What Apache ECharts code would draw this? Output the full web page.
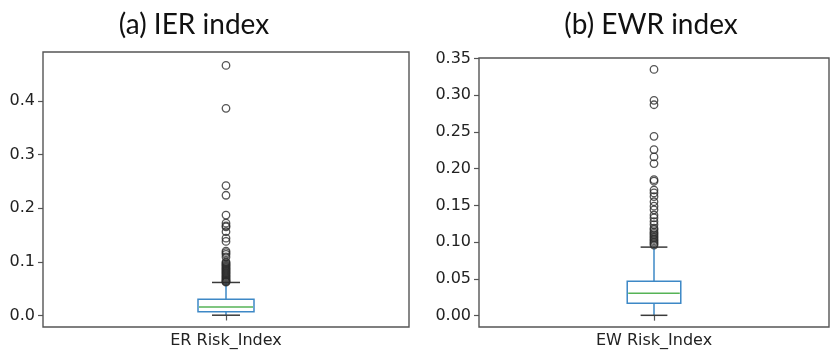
<!DOCTYPE html>
<html>
<head>
<meta charset="utf-8">
<script src="https://cdn.jsdelivr.net/npm/echarts@6/dist/echarts.min.js"></script>
<style>
  html, body { margin: 0; padding: 0; background: #fff; }
  #chart { width: 830px; height: 350px; }
</style>
</head>
<body>
<div id="chart"></div>
<script>
// Panel titles and category names
const panelTitles = ['(a) IER index', '(b) EWR index'];
const erCategory = ['ER Risk_Index'];
const ewCategory = ['EW Risk_Index'];

// Box statistics: [lower whisker, Q1, median, Q3, upper whisker]
const erBox = [0.0005, 0.0067, 0.016, 0.030, 0.0615];
const ewBox = [0.0005, 0.0169, 0.0305, 0.047, 0.0933];

// Outliers beyond the upper whisker
const erOutliers = [0.466, 0.386, 0.242, 0.224, 0.187, 0.172, 0.167, 0.165, 0.156,
  0.144, 0.138, 0.120, 0.117, 0.114, 0.109, 0.100, 0.098, 0.096, 0.094, 0.092,
  0.090, 0.088, 0.086, 0.084, 0.082, 0.080, 0.078, 0.076, 0.074, 0.072, 0.070,
  0.068, 0.066, 0.064, 0.063, 0.062];
const ewOutliers = [0.335, 0.293, 0.287, 0.244, 0.226, 0.216, 0.207, 0.185, 0.183,
  0.171, 0.167, 0.162, 0.155, 0.149, 0.144, 0.137, 0.133, 0.128, 0.124, 0.119,
  0.117, 0.114, 0.112, 0.110, 0.108, 0.106, 0.104, 0.102, 0.100, 0.098, 0.096];

// Tick values on the y axes
const erTicks = [0, 0.1, 0.2, 0.3, 0.4];
const ewTicks = [0, 0.05, 0.10, 0.15, 0.20, 0.25, 0.30, 0.35];

const BOX_BLUE = '#3d88c6';
const MEDIAN_GREEN = '#56b356';
const CAP_GRAY = '#3a3a3a';
const FRAME = '#555555';

// Draws one box: box outline, whiskers, caps and median line
function renderBox(params, api) {
  const x = api.value(0);
  const lo = api.coord([x, api.value(1)]);
  const q1 = api.coord([x, api.value(2)]);
  const md = api.coord([x, api.value(3)]);
  const q3 = api.coord([x, api.value(4)]);
  const hi = api.coord([x, api.value(5)]);
  const band = api.size([1, 0])[0];
  const bw = band * 0.153;
  const cw = bw / 2;
  const cx = lo[0];
  const line = (x1, y1, x2, y2, color) => ({
    type: 'line',
    shape: { x1: x1, y1: y1, x2: x2, y2: y2 },
    style: { stroke: color, lineWidth: 1.5 }
  });
  return {
    type: 'group',
    children: [
      {
        type: 'rect',
        shape: { x: cx - bw / 2, y: q3[1], width: bw, height: q1[1] - q3[1] },
        style: { fill: 'none', stroke: BOX_BLUE, lineWidth: 1.5 }
      },
      line(cx, q1[1], cx, lo[1], BOX_BLUE),
      line(cx, q3[1], cx, hi[1], BOX_BLUE),
      line(cx - cw / 2, lo[1], cx + cw / 2, lo[1], CAP_GRAY),
      line(cx - cw / 2, hi[1], cx + cw / 2, hi[1], CAP_GRAY),
      line(cx - bw / 2 + 1, md[1], cx + bw / 2 - 1, md[1], MEDIAN_GREEN)
    ]
  };
}

function yAxisFor(gridIndex, min, max, ticks, digits) {
  return {
    type: 'value',
    gridIndex: gridIndex,
    min: min,
    max: max,
    splitLine: { show: false },
    axisLine: { show: false },
    axisTick: {
      show: true, length: 5, customValues: ticks,
      lineStyle: { color: FRAME, width: 1.2 }
    },
    axisLabel: {
      customValues: ticks,
      formatter: v => v.toFixed(digits),
      color: '#222', fontFamily: 'DejaVu Sans', fontSize: 16, margin: 8
    }
  };
}

function xAxisFor(gridIndex, cats) {
  return {
    type: 'category',
    gridIndex: gridIndex,
    data: cats,
    axisLine: { show: false },
    axisTick: {
      show: true, alignWithLabel: true, length: 5,
      lineStyle: { color: FRAME, width: 1.2 }
    },
    axisLabel: { color: '#222', fontFamily: 'DejaVu Sans', fontSize: 16, margin: 6 }
  };
}

const chart = echarts.init(document.getElementById('chart'), null, { renderer: 'canvas' });

const titleStyle = { fontFamily: 'Lato', fontSize: 28, fontWeight: 'normal', color: '#111' };

chart.setOption({
  animation: false,
  backgroundColor: '#fff',
  title: [
    { text: panelTitles[0], left: 189, top: 6, textAlign: 'center', textStyle: titleStyle },
    { text: panelTitles[1], left: 646, top: 6, textAlign: 'center', textStyle: titleStyle }
  ],
  grid: [
    { left: 43, top: 52, width: 366, height: 275, show: true, borderColor: FRAME, borderWidth: 1.4, backgroundColor: 'transparent' },
    { left: 479, top: 58, width: 350, height: 269, show: true, borderColor: FRAME, borderWidth: 1.4, backgroundColor: 'transparent' }
  ],
  xAxis: [xAxisFor(0, erCategory), xAxisFor(1, ewCategory)],
  yAxis: [
    yAxisFor(0, -0.0215, 0.491, erTicks, 1),
    yAxisFor(1, -0.0154, 0.3506, ewTicks, 2)
  ],
  series: [
    {
      type: 'custom', xAxisIndex: 0, yAxisIndex: 0,
      renderItem: renderBox,
      data: [[0].concat(erBox)]
    },
    {
      type: 'custom', xAxisIndex: 1, yAxisIndex: 1,
      renderItem: renderBox,
      data: [[0].concat(ewBox)]
    },
    {
      type: 'scatter', xAxisIndex: 0, yAxisIndex: 0,
      symbol: 'circle', symbolSize: 7.5,
      itemStyle: { color: 'rgba(0,0,0,0)', borderColor: '#2a2a2a', borderWidth: 1.3 },
      data: erOutliers.map(v => [0, v])
    },
    {
      type: 'scatter', xAxisIndex: 1, yAxisIndex: 1,
      symbol: 'circle', symbolSize: 7.5,
      itemStyle: { color: 'rgba(0,0,0,0)', borderColor: '#2a2a2a', borderWidth: 1.3 },
      data: ewOutliers.map(v => [0, v])
    }
  ]
});
</script>
</body>
</html>
